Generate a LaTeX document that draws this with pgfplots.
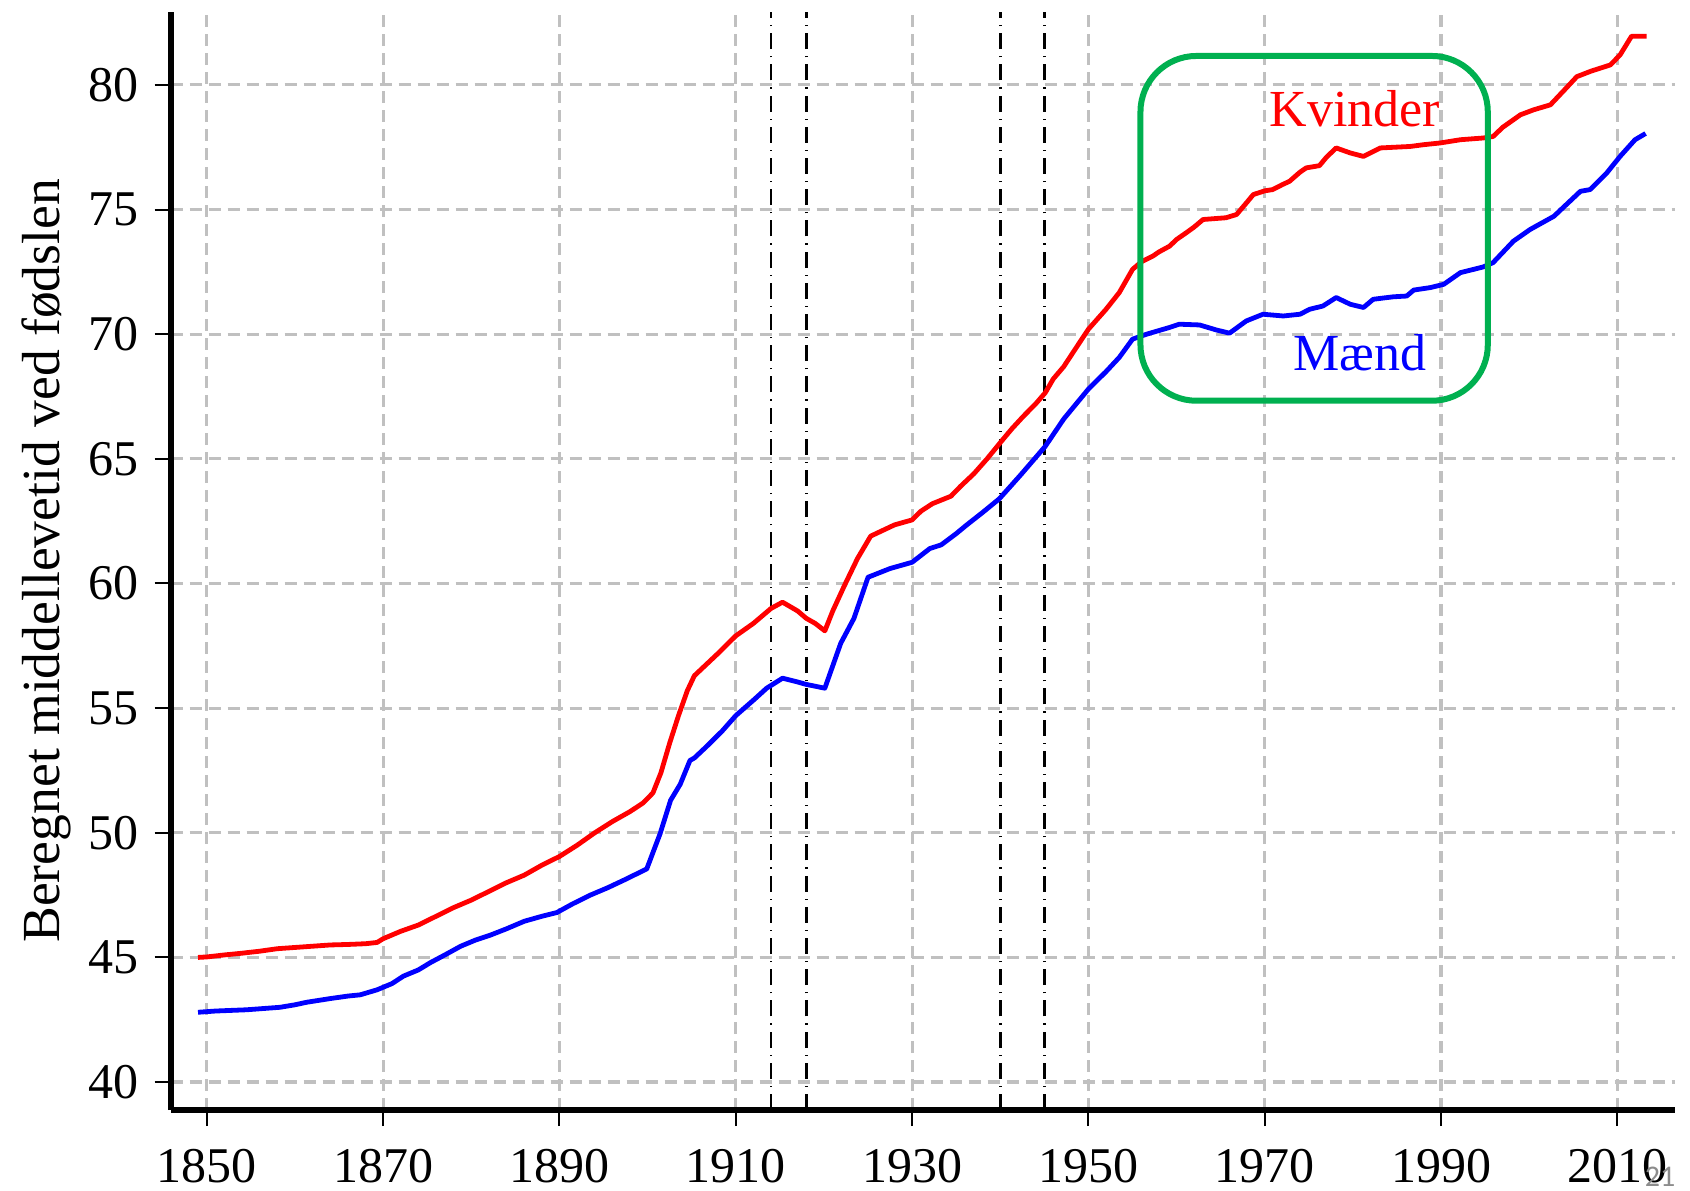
\documentclass[border=0pt]{standalone}
\usepackage{pgfplots}
\pgfplotsset{compat=1.18}
\usepackage{fontspec}
\setmainfont{Liberation Serif}
\newfontfamily\carlito{Carlito}
\definecolor{gridgray}{RGB}{192,192,192}
\definecolor{boxgreen}{RGB}{0,176,80}
\begin{document}
\begin{tikzpicture}
\begin{axis}[
  scale only axis,
  width=752bp, height=549.2bp,
  xmin=1845.9, xmax=2016.5,
  ymin=38.88, ymax=82.94,
  axis x line*=bottom, axis y line*=left,
  axis line style={line width=3bp, black, -},
  xtick={1850,1870,...,2010},
  ytick={40,45,...,80},
  tick align=outside,
  major tick length=8bp,
  tick style={black, line width=1bp},
  grid=major,
  major grid style={gridgray, line width=1.6bp, dash pattern=on 6bp off 3.5bp},
  /pgf/number format/assume math mode=true,
  /pgf/number format/1000 sep={},
  xticklabel style={font=\fontsize{25bp}{29bp}\selectfont, anchor=north, inner sep=0pt, yshift=-11.2bp},
  yticklabel style={font=\fontsize{25bp}{29bp}\selectfont, anchor=east, inner sep=0pt, xshift=-8bp},
  clip=false,
]
% war period markers
\addplot[black, line width=1.35bp, dash pattern=on 8bp off 3.5bp on 0.6bp off 3.5bp] coordinates {(1914,38.88) (1914,82.94)};
\addplot[black, line width=1.35bp, dash pattern=on 8bp off 3.5bp on 0.6bp off 3.5bp] coordinates {(1918,38.88) (1918,82.94)};
\addplot[black, line width=1.35bp, dash pattern=on 8bp off 3.5bp on 0.6bp off 3.5bp] coordinates {(1940,38.88) (1940,82.94)};
\addplot[black, line width=1.35bp, dash pattern=on 8bp off 3.5bp on 0.6bp off 3.5bp] coordinates {(1945,38.88) (1945,82.94)};
% Kvinder
\addplot[red, line width=2.4bp, line join=round] coordinates {
(1849,45.0) (1850,45.02) (1852,45.1) (1854,45.17) (1856,45.25) (1858,45.35) (1860,45.4)
(1862,45.45) (1864,45.5) (1866,45.52) (1868,45.55) (1869.3,45.6) (1870,45.75) (1872,46.05)
(1874,46.3) (1876,46.65) (1878,47.0) (1880,47.3) (1882,47.65) (1884,48.0) (1886,48.3)
(1888,48.7) (1890,49.05) (1892,49.5) (1894,50.0) (1896,50.45) (1898,50.85) (1899.5,51.2)
(1900.6,51.6) (1901.5,52.4) (1902.5,53.6) (1903.5,54.7) (1904.5,55.7) (1905.3,56.3)
(1906.5,56.7) (1908,57.2) (1910,57.9) (1912,58.4) (1913,58.7) (1914,59.0) (1915.3,59.25)
(1917,58.9) (1918,58.6) (1919,58.4) (1920.1,58.1) (1921,58.9) (1922.3,59.9) (1923.8,61.0)
(1925.3,61.9) (1926.5,62.1) (1928,62.35) (1930,62.55) (1931,62.9) (1932.3,63.2) (1934.4,63.5)
(1935.5,63.9) (1937,64.4) (1938.5,65.0) (1940,65.65) (1941.3,66.2) (1942.6,66.7) (1944,67.2)
(1945.1,67.65) (1946,68.2) (1947.2,68.7) (1948.5,69.4) (1950,70.2) (1951,70.6) (1952,71.0)
(1953.5,71.67) (1955,72.6) (1956,72.9) (1957.3,73.13) (1958,73.3) (1959.2,73.53) (1960,73.8)
(1961.1,74.07) (1962,74.3) (1963,74.6) (1965.6,74.67) (1966.8,74.8) (1968,75.3) (1968.7,75.6)
(1970,75.75) (1970.9,75.8) (1972,76.0) (1972.8,76.13) (1974,76.5) (1974.7,76.67) (1976.2,76.76)
(1977,77.1) (1978.1,77.47) (1979.7,77.27) (1981.2,77.13) (1983.1,77.47) (1986.5,77.53)
(1988,77.6) (1989.9,77.67) (1992.2,77.8) (1994.8,77.87) (1995.9,77.93) (1997,78.3) (1998.2,78.6)
(1999,78.8) (2000.5,79.0) (2002.4,79.2) (2004,79.8) (2005.4,80.33) (2007,80.55) (2009.2,80.8)
(2010.3,81.2) (2011.6,81.95) (2013.3,81.95)
};
% Maend
\addplot[blue, line width=2.4bp, line join=round] coordinates {
(1849,42.8) (1851,42.85) (1854.5,42.9) (1858.3,43.0) (1860,43.1) (1861.3,43.2) (1864,43.35)
(1866,43.45) (1867.4,43.5) (1869.3,43.7) (1871,43.95) (1872.3,44.25) (1874,44.5) (1875.4,44.8)
(1877,45.1) (1878.8,45.45) (1880.5,45.7) (1882.2,45.9) (1884,46.15) (1886,46.45) (1888,46.65)
(1889.7,46.8) (1891.5,47.15) (1893.5,47.5) (1895.5,47.8) (1897.3,48.1) (1899.9,48.55)
(1900.7,49.3) (1901.4,49.95) (1902.6,51.3) (1903.7,51.95) (1904.8,52.9) (1905.3,53.0)
(1906.8,53.5) (1908.5,54.1) (1910,54.7) (1912.1,55.35) (1913.5,55.8) (1915.3,56.2) (1917,56.05)
(1918,55.95) (1920.1,55.8) (1921,56.7) (1921.9,57.6) (1923.4,58.6) (1925,60.25) (1927.5,60.6)
(1930,60.85) (1932,61.4) (1933.3,61.55) (1935,62.0) (1936.2,62.35) (1938,62.85) (1939.9,63.4)
(1942.3,64.35) (1945.1,65.5) (1947.2,66.6) (1950,67.8) (1952,68.5) (1953.5,69.07) (1955,69.8)
(1956.6,70.0) (1959.2,70.27) (1960.3,70.4) (1962.6,70.37) (1964.5,70.17) (1966.0,70.04)
(1967.9,70.53) (1969.8,70.8) (1972.1,70.73) (1974.0,70.8) (1975.1,71.0) (1976.6,71.13)
(1978.1,71.47) (1979.7,71.2) (1981.2,71.07) (1982.3,71.4) (1984.6,71.5) (1986.1,71.53)
(1986.9,71.77) (1988.8,71.87) (1990.3,72.0) (1992.2,72.47) (1993.7,72.6) (1994.8,72.7)
(1995.9,72.87) (1998.2,73.73) (2000.1,74.2) (2002.8,74.73) (2005.8,75.73) (2006.9,75.8)
(2008.8,76.47) (2010.3,77.13) (2012,77.8) (2013.2,78.05)
};
\draw[boxgreen, line width=3bp, rounded corners=28bp] (axis cs:1955.9,81.16) rectangle (axis cs:1995.3,67.33);
\node[red, anchor=base, inner sep=0pt, font=\fontsize{26bp}{30bp}\selectfont] at (axis cs:1980.2,78.33) {Kvinder};
\node[blue, anchor=base, inner sep=0pt, font=\fontsize{26bp}{30bp}\selectfont] at (axis cs:1980.8,68.53) {Mænd};
\end{axis}
\node[rotate=90, anchor=north, inner sep=0pt, font=\fontsize{26.8bp}{31bp}\selectfont] at (-74.5bp,274.6bp) {Beregnet middellevetid ved fødslen};
\node[anchor=base east, inner sep=0pt, text=black!45, font=\carlito\fontsize{15bp}{18bp}\selectfont] at (752.5bp,-38.2bp) {21};
\pgfresetboundingbox
\path[use as bounding box] (-85.35bp,-40.5bp) rectangle (759.65bp,555bp);
\end{tikzpicture}
\end{document}
